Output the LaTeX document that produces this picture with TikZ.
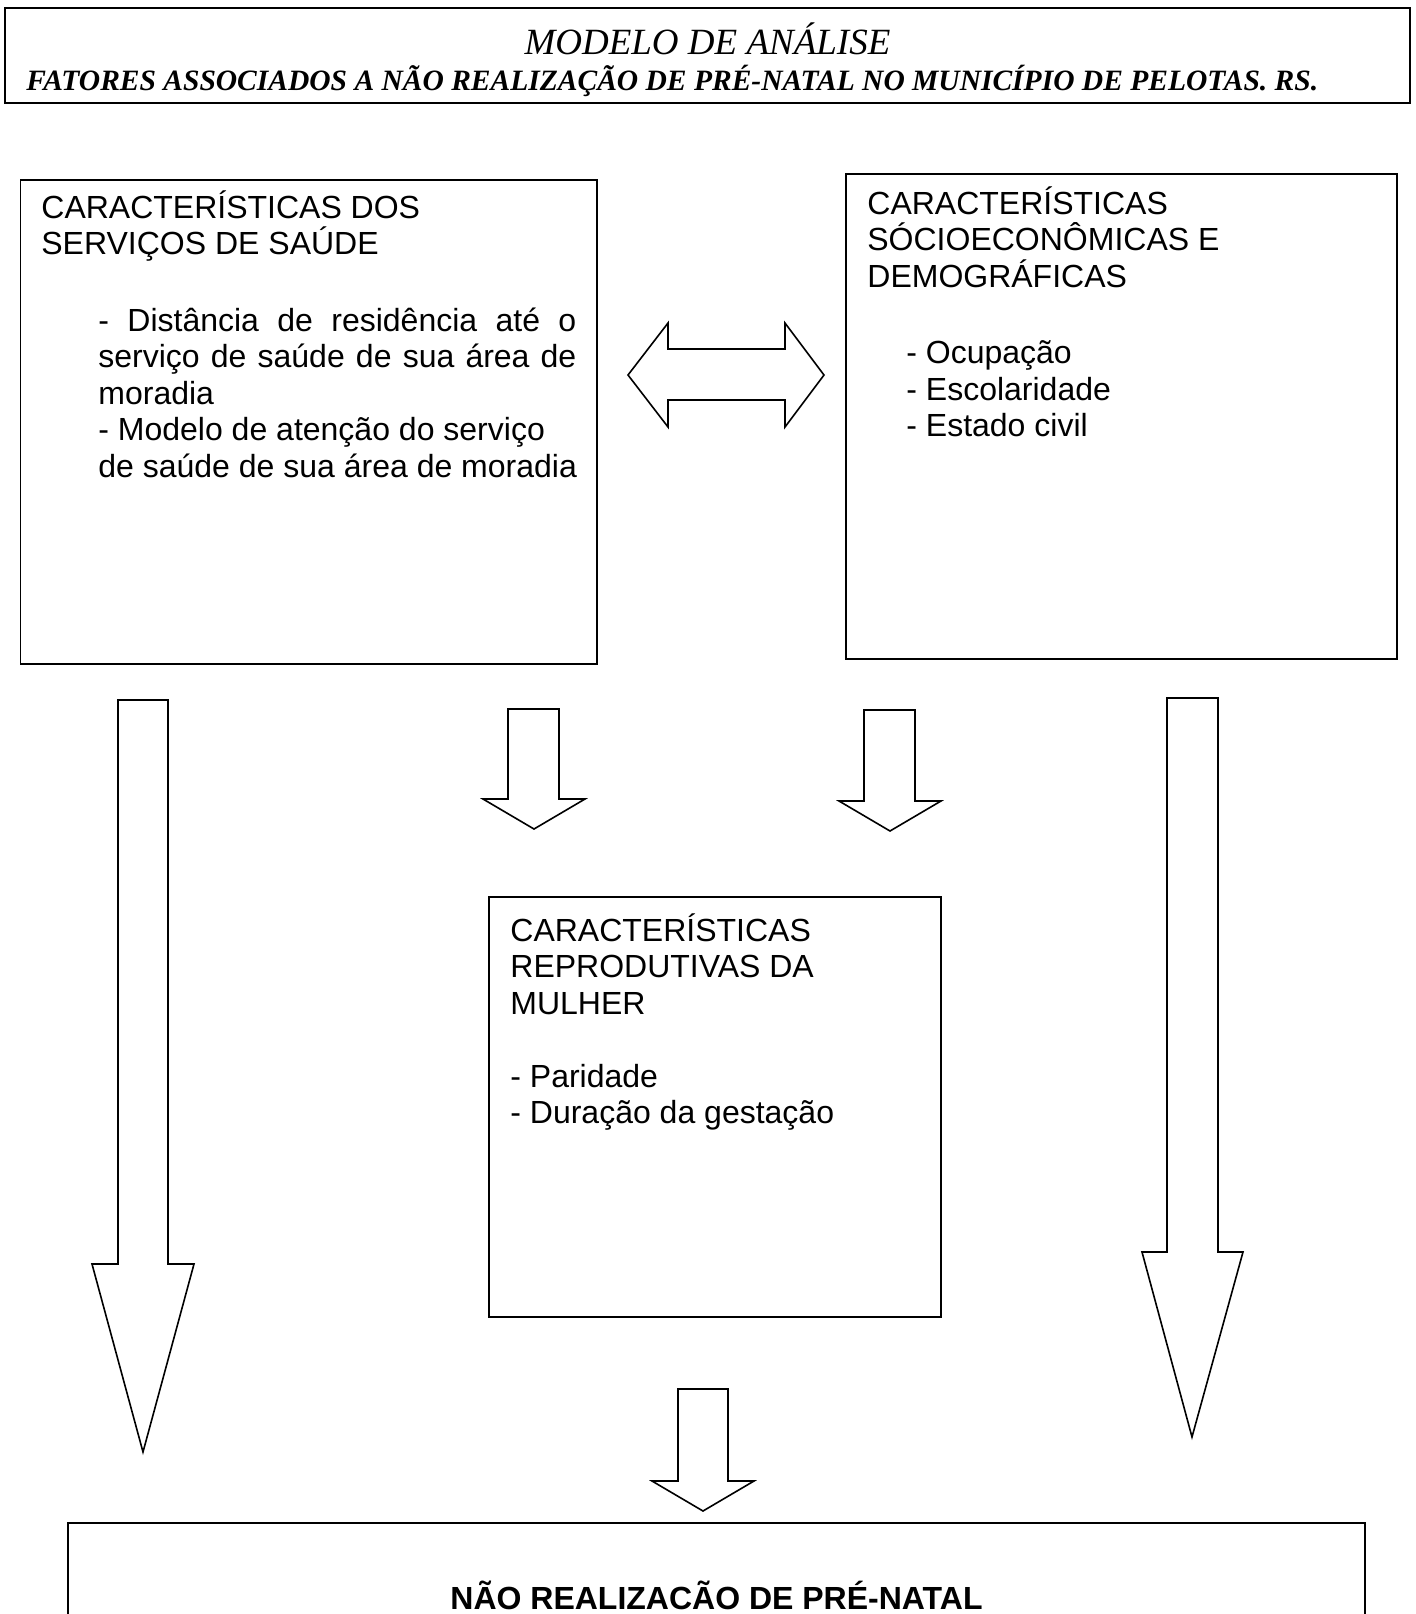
\documentclass[tikz,border=0pt]{standalone}
\usepackage{fontspec}
\setmainfont{Liberation Sans}
\newfontfamily\timesfont{Liberation Serif}
\usepackage{tikz}

\tikzset{
  caixa/.style={draw=black, line width=0.8pt},
  moldura/.style={draw=black, line width=1pt},
  seta/.style={draw=black, line width=0.8pt, line join=miter},
  texto/.style={anchor=base west, inner sep=0pt, align=flush left,
    font=\fontsize{16pt}{18.25pt}\selectfont},
}

\begin{document}
\begin{tikzpicture}[x=0.5pt, y=-0.5pt]
  \useasboundingbox (0,0) rectangle (1416,1614);
  % title
  \draw[moldura] (5,8) rectangle (1410,103);
  \node[anchor=base, inner sep=0pt, font=\timesfont\itshape\fontsize{18.5pt}{20pt}\selectfont] (titulo) at (707.5,54.5) {MODELO DE ANÁLISE};
  \node[anchor=base west, inner sep=0pt, font=\timesfont\bfseries\itshape\fontsize{14.76pt}{16pt}\selectfont] (subtitulo) at (26,90.5) {FATORES ASSOCIADOS A NÃO REALIZAÇÃO DE PRÉ-NATAL NO MUNICÍPIO DE PELOTAS. RS.};

  % boxes
  \draw[caixa] (20.6,180) rectangle (597,664);
  \node[texto, text width=280pt] (servicos) at (41,218) {CARACTERÍSTICAS DOS\\ SERVIÇOS DE SAÚDE\\[20pt]
    \hspace*{28.5pt}\makebox[239pt][s]{- Distância de residência até o}\\
    \hspace*{28.5pt}\makebox[239pt][s]{serviço de saúde de sua área de}\\
    \hspace*{28.5pt}moradia\\
    \hspace*{28.5pt}- Modelo de atenção do serviço\\
    \hspace*{28.5pt}de saúde de sua área de moradia};

  \draw[caixa] (846,174) rectangle (1397,659);
  \node[texto, text width=265pt] (socio) at (867,214) {CARACTERÍSTICAS\\ SÓCIOECONÔMICAS E\\ DEMOGRÁFICAS\\[20pt]
    \hspace*{19.5pt}- Ocupação\\
    \hspace*{19.5pt}- Escolaridade\\
    \hspace*{19.5pt}- Estado civil};

  \draw[caixa] (489,897) rectangle (941,1317);
  \node[texto, text width=214pt] (reprod) at (510,941) {CARACTERÍSTICAS\\ REPRODUTIVAS DA\\ MULHER\\[18.25pt]
    - Paridade\\
    - Duração da gestação};

  \draw[moldura] (68,1700) -- (68,1523) -- (1365,1523) -- (1365,1700);
  \node[anchor=base, inner sep=0pt, font=\bfseries\fontsize{16pt}{18pt}\selectfont] (desfecho) at (716.5,1609) {NÃO REALIZACÃO DE PRÉ-NATAL};

  % block arrows
  \draw[seta] (628,375) -- (668,323) -- (668,349) -- (785,349) -- (785,323) -- (824,375)
    -- (785,427) -- (785,400) -- (668,400) -- (668,427) -- cycle;
  \draw[seta] (118,700) -- (168,700) -- (168,1264) -- (194,1264) -- (143,1452) -- (92,1264) -- (118,1264) -- cycle;
  \draw[seta] (508,709) -- (559,709) -- (559,799) -- (585,799) -- (534,829) -- (483,799) -- (508,799) -- cycle;
  \draw[seta] (864,710) -- (915,710) -- (915,801) -- (941,801) -- (890,831) -- (839,801) -- (864,801) -- cycle;
  \draw[seta] (1167,698) -- (1218,698) -- (1218,1252) -- (1243,1252) -- (1192,1437) -- (1142,1252) -- (1167,1252) -- cycle;
  \draw[seta] (678,1389) -- (728,1389) -- (728,1481) -- (754,1481) -- (703,1511) -- (652,1481) -- (678,1481) -- cycle;
\end{tikzpicture}
\end{document}
